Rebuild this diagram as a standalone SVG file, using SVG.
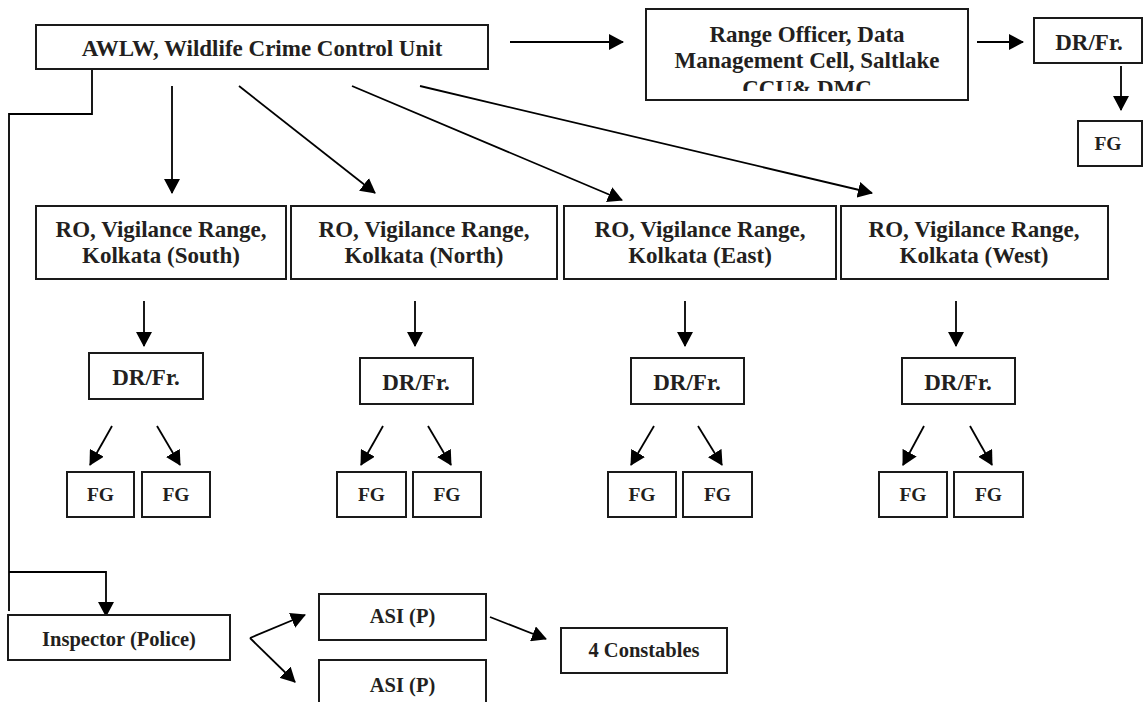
<svg xmlns="http://www.w3.org/2000/svg" width="1143" height="702" viewBox="0 0 1143 702">
<style>
.box{fill:#fff;stroke:#1a1a1a;stroke-width:2}
.t{font-family:"Liberation Serif","Times New Roman",serif;font-weight:bold;fill:#231f20;text-anchor:middle}
.l{font-size:23px}
.s{font-size:20.5px}
.fg{font-size:19.5px}
.c{fill:none;stroke:#000;stroke-width:1.8}
.a{marker-end:url(#ah)}
</style>
<defs>
<marker id="ah" viewBox="0 0 15 16" refX="14" refY="8" markerWidth="15" markerHeight="16" markerUnits="userSpaceOnUse" orient="auto">
<path d="M0,0 L15,8 L0,16 z" fill="#000"/>
</marker>
<clipPath id="rclip"><rect x="646" y="9" width="322" height="82"/></clipPath>
</defs>
<rect width="1143" height="702" fill="#fff"/>

<g id="connectors">
<path class="c a" d="M510,42 H623"/>
<path class="c a" d="M977,42 H1023"/>
<path class="c a" d="M1121,66 V110"/>
<path class="c" d="M92,69 V114 H9 V611"/>
<path class="c a" d="M9,572 H106 V616"/>
<path class="c a" d="M172,86 V193"/>
<path class="c a" d="M239,86 L375,193"/>
<path class="c a" d="M352,86 L622,200"/>
<path class="c a" d="M420,86 L872,193"/>
<path class="c a" d="M144,301 V346"/>
<path class="c a" d="M415,301 V346"/>
<path class="c a" d="M685,301 V346"/>
<path class="c a" d="M956,301 V346"/>
<path class="c a" d="M112,426 L90,465"/>
<path class="c a" d="M157,426 L180,465"/>
<path class="c a" d="M383,426 L361,465"/>
<path class="c a" d="M428,426 L451,465"/>
<path class="c a" d="M654,426 L631,465"/>
<path class="c a" d="M698,426 L722,465"/>
<path class="c a" d="M924,426 L903,465"/>
<path class="c a" d="M970,426 L992,465"/>
<path class="c a" d="M250,638 L305,615"/>
<path class="c a" d="M250,638 L295,682"/>
<path class="c a" d="M490,617 L546,639"/>
</g>

<g id="awlw"><rect class="box" x="36" y="25" width="452" height="44"/><text class="t l" x="262" y="56">AWLW, Wildlife Crime Control Unit</text></g>
<g id="range-officer"><rect class="box" x="646" y="9" width="322" height="91"/>
<g clip-path="url(#rclip)"><text class="t l" x="807" y="42">Range Officer, Data</text><text class="t l" x="807" y="68">Management Cell, Saltlake</text><text class="t l" x="807" y="96">CCU&amp; DMC</text></g></g>
<g id="dr-top"><rect class="box" x="1034" y="18" width="108" height="45"/><text class="t l" x="1089" y="50">DR/Fr.</text></g>
<g id="fg-top"><rect class="box" x="1078" y="121" width="64" height="45"/><text class="t fg" x="1108" y="150">FG</text></g>

<g id="ro-south"><rect class="box" x="36" y="206" width="250" height="73"/><text class="t l" x="161" y="237">RO, Vigilance Range,</text><text class="t l" x="161" y="263">Kolkata (South)</text></g>
<g id="ro-north"><rect class="box" x="291" y="206" width="266" height="73"/><text class="t l" x="424" y="237">RO, Vigilance Range,</text><text class="t l" x="424" y="263">Kolkata (North)</text></g>
<g id="ro-east"><rect class="box" x="564" y="206" width="272" height="73"/><text class="t l" x="700" y="237">RO, Vigilance Range,</text><text class="t l" x="700" y="263">Kolkata (East)</text></g>
<g id="ro-west"><rect class="box" x="841" y="206" width="267" height="73"/><text class="t l" x="974" y="237">RO, Vigilance Range,</text><text class="t l" x="974" y="263">Kolkata (West)</text></g>

<g id="dr-south"><rect class="box" x="89" y="353" width="114" height="46"/><text class="t l" x="146" y="385">DR/Fr.</text></g>
<g id="dr-north"><rect class="box" x="360" y="358" width="113" height="46"/><text class="t l" x="416" y="390">DR/Fr.</text></g>
<g id="dr-east"><rect class="box" x="631" y="358" width="113" height="46"/><text class="t l" x="687" y="390">DR/Fr.</text></g>
<g id="dr-west"><rect class="box" x="902" y="358" width="113" height="46"/><text class="t l" x="958" y="390">DR/Fr.</text></g>

<g id="fg-s1"><rect class="box" x="67" y="472" width="67" height="45"/><text class="t fg" x="100.5" y="501">FG</text></g>
<g id="fg-s2"><rect class="box" x="142" y="472" width="68" height="45"/><text class="t fg" x="176" y="501">FG</text></g>
<g id="fg-n1"><rect class="box" x="337" y="472" width="69" height="45"/><text class="t fg" x="371.5" y="501">FG</text></g>
<g id="fg-n2"><rect class="box" x="413" y="472" width="68" height="45"/><text class="t fg" x="447" y="501">FG</text></g>
<g id="fg-e1"><rect class="box" x="608" y="472" width="68" height="45"/><text class="t fg" x="642" y="501">FG</text></g>
<g id="fg-e2"><rect class="box" x="683" y="472" width="69" height="45"/><text class="t fg" x="717.5" y="501">FG</text></g>
<g id="fg-w1"><rect class="box" x="879" y="472" width="68" height="45"/><text class="t fg" x="913" y="501">FG</text></g>
<g id="fg-w2"><rect class="box" x="954" y="472" width="69" height="45"/><text class="t fg" x="988.5" y="501">FG</text></g>

<g id="inspector"><rect class="box" x="8" y="615" width="222" height="45"/><text class="t s" x="119" y="646">Inspector (Police)</text></g>
<g id="asi-1"><rect class="box" x="319" y="594" width="167" height="46"/><text class="t s" x="402.5" y="623">ASI (P)</text></g>
<g id="asi-2"><rect class="box" x="319" y="660" width="167" height="50"/><text class="t s" x="402.5" y="692">ASI (P)</text></g>
<g id="constables"><rect class="box" x="561" y="628" width="166" height="45"/><text class="t s" x="644" y="657">4 Constables</text></g>
</svg>
